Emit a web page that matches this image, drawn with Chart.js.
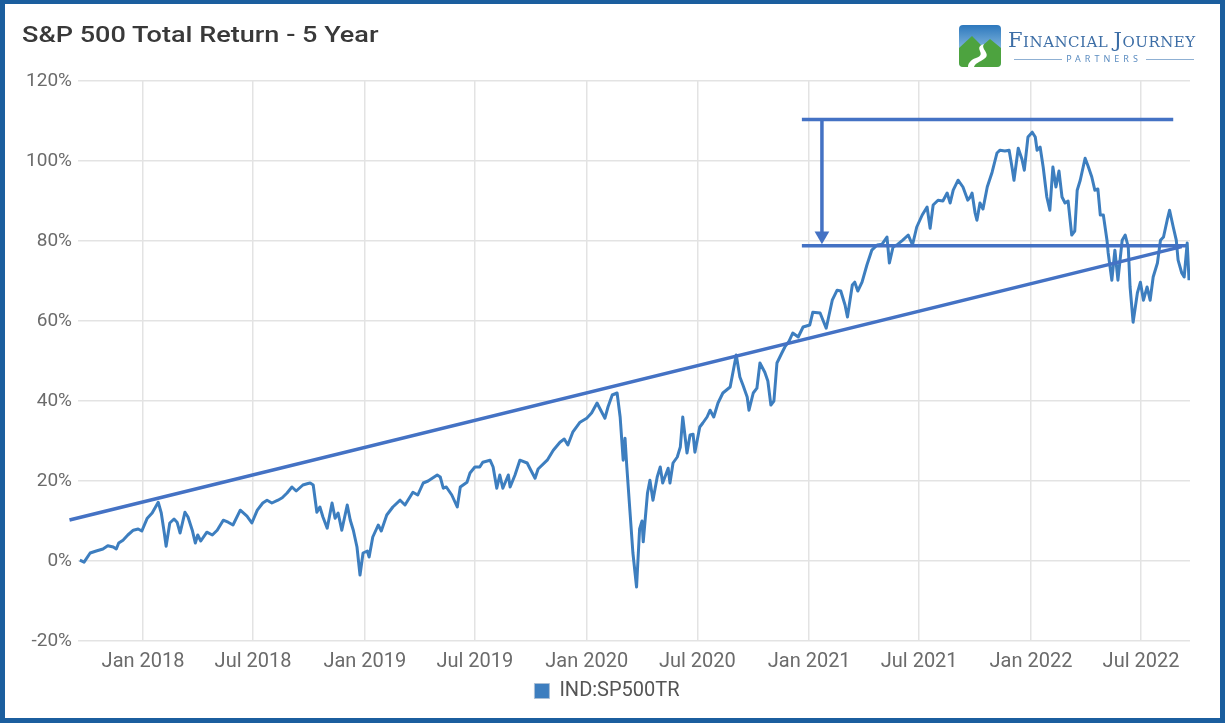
<!DOCTYPE html>
<html>
<head>
<meta charset="utf-8">
<script src="https://cdn.jsdelivr.net/npm/chart.js@4.4.1/dist/chart.umd.min.js"></script>
<style>
  html, body { margin: 0; padding: 0; background: #fff; }
  #wrap { position: relative; width: 1225px; height: 723px; overflow: hidden; background: #fff; }
  #frame { position: absolute; left: 0; top: 0; width: 1225px; height: 723px; box-sizing: border-box;
           border: 5px solid #1b5e9e; border-top-width: 4px; pointer-events: none; }
  #chart { position: absolute; left: 0; top: 0; }
  #title { position: absolute; left: 22px; top: 22px; font-family: Roboto, sans-serif; font-weight: 500;
           font-size: 22px; color: #393939; white-space: nowrap; transform: scaleX(1.23); transform-origin: left top; }
  #logo { position: absolute; left: 958px; top: 24px; width: 245px; height: 46px; }
  #logo svg { position: absolute; left: 0; top: 0; }
  #logo .name { position: absolute; left: 50px; top: 4px; font-family: "DejaVu Serif", serif; font-size: 15px;
                color: #3d6ea6; letter-spacing: 0.5px; white-space: nowrap; }
  #logo .name b { font-weight: normal; font-size: 21px; }
  #logo .sub { position: absolute; left: 50px; top: 28px; width: 192px; font-family: "Noto Sans", sans-serif;
               font-size: 9px; letter-spacing: 4px; color: #5b8cc0; text-align: center; white-space: nowrap; }
  #logo .sub:before, #logo .sub:after { content: ""; display: inline-block; width: 48px; height: 1px;
               background: #8fb0d3; vertical-align: middle; margin: 0 4px; }
</style>
</head>
<body>
<div id="wrap">
  <canvas id="chart" width="1225" height="723"></canvas>
  <div id="title">S&amp;P 500 Total Return - 5 Year</div>
  <div id="logo">
    <svg width="44" height="44" viewBox="0 0 44 44">
      <defs>
        <linearGradient id="sky" x1="0" y1="0" x2="0" y2="1">
          <stop offset="0" stop-color="#2d78bd"/>
          <stop offset="1" stop-color="#bfe3f5"/>
        </linearGradient>
      </defs>
      <rect x="1" y="1" width="42" height="42" rx="4" fill="url(#sky)"/>
      <path d="M1 24 L14 12 L24 22 L32 15 L43 24 L43 39 Q43 43 39 43 L5 43 Q1 43 1 39 Z" fill="#4da33f"/>
      <path d="M26 20 C14 24 30 30 18 34 C12 36 10 40 10 43 L16 43 C17 39 22 38 26 35 C34 30 22 25 26 20 Z" fill="#fff"/>
    </svg>
    <div class="name"><b>F</b>INANCIAL <b>J</b>OURNEY</div>
    <div class="sub">PARTNERS</div>
  </div>
  <div id="frame"></div>
</div>
<script>
// S&P 500 total return, % since Sep 2017
const seriesName = 'IND:SP500TR';
const returnDates = [
  '2017-09-19', '2017-09-26', '2017-10-06', '2017-10-16', '2017-10-27', '2017-11-04', '2017-11-13',
  '2017-11-18', '2017-11-22', '2017-11-29', '2017-12-07', '2017-12-16', '2017-12-24', '2017-12-30',
  '2018-01-08', '2018-01-16', '2018-01-26', '2018-01-31', '2018-02-05', '2018-02-08', '2018-02-14',
  '2018-02-21', '2018-02-26', '2018-03-03', '2018-03-11', '2018-03-16', '2018-03-23', '2018-03-28',
  '2018-04-01', '2018-04-06', '2018-04-16', '2018-04-25', '2018-05-03', '2018-05-13', '2018-05-21',
  '2018-05-29', '2018-06-10', '2018-06-21', '2018-06-29', '2018-07-08', '2018-07-17', '2018-07-24',
  '2018-08-01', '2018-08-11', '2018-08-18', '2018-08-26', '2018-09-03', '2018-09-10', '2018-09-21',
  '2018-09-28', '2018-10-03', '2018-10-08', '2018-10-14', '2018-10-19', '2018-10-24', '2018-10-31',
  '2018-11-08', '2018-11-13', '2018-11-18', '2018-11-24', '2018-12-03', '2018-12-08', '2018-12-13',
  '2018-12-19', '2018-12-24', '2018-12-29',
  '2019-01-05', '2019-01-08', '2019-01-14', '2019-01-23', '2019-01-28', '2019-02-06', '2019-02-16',
  '2019-02-28', '2019-03-08', '2019-03-21', '2019-03-29', '2019-04-07', '2019-04-15', '2019-04-30',
  '2019-05-05', '2019-05-10', '2019-05-15', '2019-05-24', '2019-06-02', '2019-06-07', '2019-06-18',
  '2019-06-23', '2019-07-01', '2019-07-09', '2019-07-14', '2019-07-26', '2019-07-31', '2019-08-06',
  '2019-08-11', '2019-08-16', '2019-08-25', '2019-08-28', '2019-09-05', '2019-09-13', '2019-09-25',
  '2019-09-30', '2019-10-08', '2019-10-13', '2019-10-28', '2019-11-07', '2019-11-18', '2019-11-25',
  '2019-12-01', '2019-12-09', '2019-12-21',
  '2020-01-01', '2020-01-09', '2020-01-18', '2020-01-23', '2020-01-31', '2020-02-05', '2020-02-12',
  '2020-02-20', '2020-02-25', '2020-03-01', '2020-03-04', '2020-03-07', '2020-03-12', '2020-03-17',
  '2020-03-23', '2020-03-28', '2020-04-01', '2020-04-03', '2020-04-10', '2020-04-14', '2020-04-19',
  '2020-04-26', '2020-05-01', '2020-05-05', '2020-05-14', '2020-05-17', '2020-05-22', '2020-05-29',
  '2020-06-03', '2020-06-07', '2020-06-14', '2020-06-19', '2020-06-24', '2020-06-27', '2020-07-05',
  '2020-07-10', '2020-07-17', '2020-07-22', '2020-07-28', '2020-08-04', '2020-08-12', '2020-08-24',
  '2020-09-03', '2020-09-09', '2020-09-14', '2020-09-21', '2020-09-24', '2020-10-01', '2020-10-07',
  '2020-10-12', '2020-10-20', '2020-10-25', '2020-10-30', '2020-11-04', '2020-11-09', '2020-11-17',
  '2020-11-22', '2020-11-29', '2020-12-05', '2020-12-14', '2020-12-22',
  '2021-01-02', '2021-01-07', '2021-01-19', '2021-01-29', '2021-02-08', '2021-02-16', '2021-02-22',
  '2021-03-01', '2021-03-05', '2021-03-13', '2021-03-17', '2021-03-22', '2021-03-29', '2021-04-06',
  '2021-04-14', '2021-04-23', '2021-05-01', '2021-05-09', '2021-05-13', '2021-05-19', '2021-05-27',
  '2021-06-04', '2021-06-13', '2021-06-20', '2021-06-27', '2021-07-06', '2021-07-14', '2021-07-19',
  '2021-07-24', '2021-08-01', '2021-08-09', '2021-08-16', '2021-08-21', '2021-08-26', '2021-09-03',
  '2021-09-11', '2021-09-19', '2021-09-23', '2021-09-26', '2021-10-01', '2021-10-04', '2021-10-09',
  '2021-10-14', '2021-10-21', '2021-10-29', '2021-11-06', '2021-11-11', '2021-11-19', '2021-11-26',
  '2021-12-01', '2021-12-04', '2021-12-11', '2021-12-17', '2021-12-21', '2021-12-27',
  '2022-01-03', '2022-01-08', '2022-01-11', '2022-01-16', '2022-01-21', '2022-01-27', '2022-02-01',
  '2022-02-06', '2022-02-11', '2022-02-16', '2022-02-21', '2022-02-26', '2022-03-03', '2022-03-09',
  '2022-03-14', '2022-03-18', '2022-03-23', '2022-03-31', '2022-04-05', '2022-04-11', '2022-04-16',
  '2022-04-21', '2022-04-25', '2022-04-30', '2022-05-06', '2022-05-08', '2022-05-14', '2022-05-19',
  '2022-05-24', '2022-05-31', '2022-06-05', '2022-06-10', '2022-06-13', '2022-06-18', '2022-06-25',
  '2022-06-30', '2022-07-05', '2022-07-11', '2022-07-16', '2022-07-21', '2022-07-28', '2022-08-02',
  '2022-08-07', '2022-08-13', '2022-08-17', '2022-08-23', '2022-08-28', '2022-08-31', '2022-09-06',
  '2022-09-10', '2022-09-15', '2022-09-18'
];
const returnPct = [
  0.2, -0.3, 2.0, 2.5, 3.0, 3.8, 3.5,
  3.0, 4.5, 5.2, 6.5, 7.7, 8.0, 7.5,
  10.7, 12.0, 14.7, 12.0, 7.0, 3.7, 9.5,
  10.5, 9.7, 7.0, 12.2, 11.0, 7.7, 4.5,
  6.5, 5.0, 7.2, 6.5, 7.7, 10.2, 9.7,
  9.0, 12.7, 11.2, 9.5, 12.7, 14.5, 15.2,
  14.5, 15.2, 15.8, 17.0, 18.5, 17.5, 19.0,
  19.3, 19.5, 19.0, 12.2, 13.5, 11.0, 8.2,
  14.5, 10.7, 12.0, 7.7, 14.0, 10.2, 7.7,
  3.5, -3.5, 2.0,
  2.5, 1.0, 6.0, 9.0, 7.5, 11.5, 13.5,
  15.2, 14.0, 17.2, 16.5, 19.5, 20.0, 21.5,
  21.0, 18.2, 18.5, 16.5, 13.5, 18.5, 19.7,
  22.0, 23.5, 23.5, 24.7, 25.2, 23.5, 18.2,
  21.5, 18.2, 21.5, 18.5, 21.5, 25.2, 24.5,
  23.0, 20.7, 23.0, 25.2, 27.7, 29.7, 30.5,
  29.0, 32.2, 34.7,
  35.7, 37.0, 39.5, 38.0, 35.7, 38.5, 41.5,
  42.0, 36.0, 25.2, 30.7, 23.5, 12.7, 2.0,
  -6.5, 8.0, 10.0, 4.8, 17.0, 20.2, 15.2,
  21.0, 23.5, 19.5, 23.2, 19.5, 24.5, 26.0,
  28.5, 36.0, 27.0, 31.5, 31.7, 27.2, 33.5,
  34.5, 36.0, 37.7, 36.0, 39.5, 42.0, 43.5,
  51.5, 46.0, 44.0, 41.0, 37.7, 42.0, 43.2,
  49.5, 47.2, 45.0, 39.0, 40.0, 49.5, 52.0,
  53.5, 55.0, 57.0, 56.0, 58.5,
  59.0, 62.2, 62.0, 58.2, 65.2, 67.7, 67.5,
  64.0, 61.0, 69.0, 69.7, 67.5, 69.7, 74.0,
  77.7, 79.0, 79.2, 81.0, 74.5, 78.5, 79.2,
  80.2, 81.5, 79.0, 83.5, 86.5, 88.5, 83.2,
  89.0, 90.2, 90.0, 92.0, 89.5, 92.7, 95.2,
  93.5, 90.2, 91.0, 92.0, 87.0, 85.2, 89.5,
  88.0, 93.5, 97.2, 102.0, 102.7, 102.5, 102.7,
  98.2, 95.2, 103.2, 100.5, 97.7, 106.0,
  107.2, 106.0, 102.7, 103.5, 98.5, 91.0, 87.7,
  98.5, 93.5, 97.5, 91.0, 89.5, 90.0, 81.5,
  82.5, 92.7, 95.2, 100.7, 98.7, 96.0, 92.7,
  93.0, 86.5, 86.5, 80.2, 77.0, 70.2, 77.7,
  70.2, 80.2, 81.5, 78.5, 68.5, 59.7, 67.0,
  69.7, 65.2, 68.5, 65.2, 71.0, 74.5, 80.2,
  81.0, 85.2, 87.7, 83.5, 80.2, 75.2, 72.0,
  71.0, 79.5, 70.2
];

// axis
const xStart = '2017-09-16';
const xEnd = '2022-09-19T14:00:00Z';
const tickDates = ['2018-01-01', '2018-07-01', '2019-01-01', '2019-07-01', '2020-01-01',
                   '2020-07-01', '2021-01-01', '2021-07-01', '2022-01-01', '2022-07-01'];
const tickLabels = ['Jan 2018', 'Jul 2018', 'Jan 2019', 'Jul 2019', 'Jan 2020',
                    'Jul 2020', 'Jan 2021', 'Jul 2021', 'Jan 2022', 'Jul 2022'];

// hand-drawn markup: trend line, range lines and arrow
const trendDates = ['2017-09-02', '2022-09-06'];
const trendPct = [10.25, 78.6];
const highLineDates = ['2020-12-20', '2022-08-23'];
const highLinePct = 110.4;
const lowLineDates = ['2020-12-20', '2022-09-13'];
const lowLinePct = 78.8;
const arrowDate = '2021-01-22';
const arrowPct = [110.4, 81.3];

const lineBlue = '#3d7ebf';
const markBlue = '#4472c4';

function t(d) { return Date.parse(d.length === 10 ? d + 'T00:00:00Z' : d); }

var seriesPoints = returnDates.map(function(d, i) { return { x: t(d), y: returnPct[i] }; });
var tickValues = tickDates.map(t);

function markLine(points, extra) {
    var ds = {
        label: 'mark',
        data: points,
        borderColor: markBlue,
        backgroundColor: markBlue,
        borderWidth: 3.5,
        pointRadius: 0,
        borderCapStyle: 'butt',
        order: 0
    };
    return Object.assign(ds, extra || {});
}

// nudge the legend a little right, like the original
var legendShift = {
    id: 'legendShift',
    afterLayout: function(chart) {
        if (chart.legend) {
            chart.legend.left += 12;
            chart.legend.right += 12;
        }
    }
};

var ctx = document.getElementById('chart').getContext('2d');
new Chart(ctx, {
    type: 'line',
    data: {
        datasets: [
            markLine(trendDates.map(function(d, i) { return { x: t(d), y: trendPct[i] }; }), { clip: false }),
            markLine(highLineDates.map(function(d) { return { x: t(d), y: highLinePct }; })),
            markLine(lowLineDates.map(function(d) { return { x: t(d), y: lowLinePct }; })),
            markLine(arrowPct.map(function(v) { return { x: t(arrowDate), y: v }; }), {
                pointRadius: [0, 8.5],
                pointStyle: 'triangle',
                rotation: 180,
                pointBorderWidth: 0
            }),
            {
                label: seriesName,
                data: seriesPoints,
                borderColor: lineBlue,
                backgroundColor: lineBlue,
                borderWidth: 3,
                pointRadius: 0,
                tension: 0,
                borderJoinStyle: 'round',
                order: 1
            }
        ]
    },
    plugins: [legendShift],
    options: {
        responsive: false,
        animation: false,
        layout: { padding: { left: 0, right: 35, top: 81, bottom: 12 } },
        plugins: {
            tooltip: { enabled: false },
            legend: {
                position: 'bottom',
                labels: {
                    boxWidth: 15,
                    boxHeight: 15,
                    padding: 6,
                    color: '#555',
                    font: { family: 'Roboto', size: 20 },
                    filter: function(item) { return item.text === seriesName; },
                    generateLabels: function(chart) {
                        var items = Chart.defaults.plugins.legend.labels.generateLabels(chart);
                        items.forEach(function(it) { it.lineWidth = 1; it.strokeStyle = '#a9bfd6'; });
                        return items;
                    }
                }
            }
        },
        scales: {
            x: {
                type: 'linear',
                min: t(xStart),
                max: t(xEnd),
                afterBuildTicks: function(scale) {
                    scale.ticks = tickValues.map(function(v) { return { value: v }; });
                },
                afterFit: function(scale) { scale.height = 34; },
                border: { display: false },
                grid: { color: '#e3e3e3', lineWidth: 1.5, drawTicks: false },
                ticks: {
                    autoSkip: false,
                    maxRotation: 0,
                    padding: 9,
                    color: '#6b6b6b',
                    font: { family: 'Roboto', size: 20 },
                    callback: function(value) {
                        var i = tickValues.indexOf(value);
                        return i >= 0 ? tickLabels[i] : '';
                    }
                }
            },
            y: {
                min: -20,
                max: 120,
                afterFit: function(scale) { scale.width = 78; },
                border: { display: false },
                grid: { color: '#e3e3e3', lineWidth: 1.5, drawTicks: false },
                ticks: {
                    stepSize: 20,
                    padding: 6,
                    color: '#6b6b6b',
                    font: { family: 'Roboto', size: 19 },
                    callback: function(value) { return value + '%'; }
                }
            }
        }
    }
});
</script>
</body>
</html>
